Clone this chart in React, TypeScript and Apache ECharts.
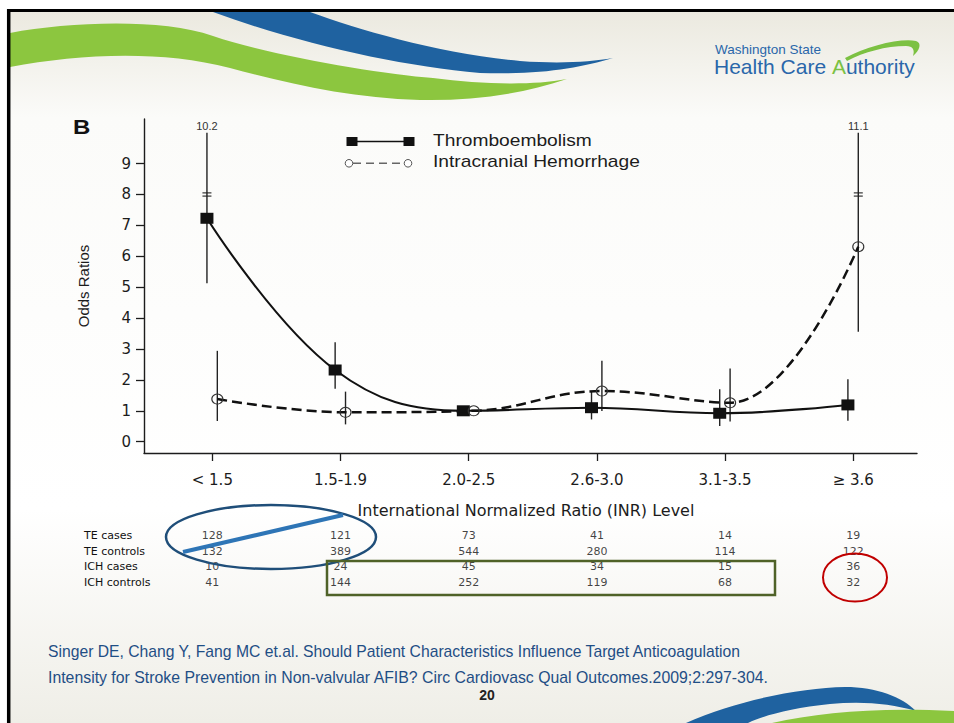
import React, { useEffect, useRef } from "react";
import * as echarts from "echarts";

// ---------------- data ----------------
const categories = ["< 1.5", "1.5-1.9", "2.0-2.5", "2.6-3.0", "3.1-3.5", "≥ 3.6"];
const yTickValues = [0, 1, 2, 3, 4, 5, 6, 7, 8, 9];
const teOddsRatio = [7.23, 2.32, 1.0, 1.1, 0.92, 1.19];
const teLowerCI = [5.13, 1.71, null, 0.72, 0.51, 0.68];
const teUpperCI = [10.2, 3.22, null, 1.62, 1.7, 2.02];
const ichOddsRatio = [1.38, 0.95, 1.0, 1.64, 1.26, 6.31];
const ichLowerCI = [0.67, 0.56, null, 0.99, 0.65, 3.56];
const ichUpperCI = [2.94, 1.62, null, 2.62, 2.37, 11.1];
const tableRowLabels = ["TE cases", "TE controls", "ICH cases", "ICH controls"];
const teCases = [128, 121, 73, 41, 14, 19];
const teControls = [132, 389, 544, 280, 114, 122];
const ichCases = [10, 24, 45, 34, 15, 36];
const ichControls = [41, 144, 252, 119, 68, 32];
const legendLabels = ["Thromboembolism", "Intracranial Hemorrhage"];
const citationLines = [
  "Singer DE, Chang Y, Fang MC et.al. Should Patient Characteristics Influence Target Anticoagulation",
  "Intensity for Stroke Prevention in Non-valvular AFIB? Circ Cardiovasc Qual Outcomes.2009;2:297-304.",
];

// ---------------- layout constants ----------------
const X_MIN = -0.533;
const X_MAX = 5.497;
const Y_MIN = -0.366;
const Y_MAX = 10.443;
const Y_CAP = 10.0; // off-scale CI bars are clipped here
const BREAK_AT = 8; // scale-break mark position
const DODGE_TE = -0.042;
const DODGE_ICH = 0.039;
const SANS = "'Liberation Sans', Arial, sans-serif";
const DEJAVU = "'DejaVu Sans', sans-serif";
const INK = "#1c1c1c";

// ---------------- decorative shapes ----------------
const SHAPES: Record<string, string> = {
  waveGreenTop:
    "M 10 33 C 70 22, 160 18, 213 36 C 273 56, 380 74, 433 78 C 480 84, 530 86, 567 79 C 520 95, 470 101, 420 100 C 350 98, 290 84, 230 68 C 160 50, 80 54, 10 67 Z",
  waveBlueTop:
    "M 213 12 L 310 12 C 360 30, 440 54, 520 61 C 560 64, 590 62, 613 58 C 580 68, 540 75, 480 73 C 400 66, 300 44, 213 12 Z",
  waveBlueBottom:
    "M 686 723 C 738 700, 800 688, 845 687 C 877 687, 902 697, 916 711 C 890 703, 860 701, 830 704 C 792 708, 765 715, 748 723 Z",
  waveGreenBottom: "M 772 723 C 820 712, 880 707, 954 711 L 954 723 Z",
  logoSwoosh:
    "M 845 58 C 868 46, 900 38, 916 41 C 922 43, 920 50, 913 56 C 915 50, 913 46, 906 46 C 886 46, 864 52, 847 61 Z",
};
for (const [name, d] of Object.entries(SHAPES)) {
  echarts.graphic.registerShape(name, echarts.graphic.extendPath(d, {}));
}

function measureText(text: string, font: string): number {
  const ctx = document.createElement("canvas").getContext("2d");
  if (!ctx) return text.length * 7;
  ctx.font = font;
  return ctx.measureText(text).width;
}

export default function App() {
  const ref = useRef<HTMLDivElement>(null);

  useEffect(() => {
    if (!ref.current) return;
    const chart = echarts.init(ref.current, undefined, { renderer: "svg" });

    const errData: number[][] = [];
    teOddsRatio.forEach((_, i) => {
      if (teLowerCI[i] != null && teUpperCI[i] != null)
        errData.push([i + DODGE_TE, teLowerCI[i] as number, teUpperCI[i] as number]);
    });
    ichOddsRatio.forEach((_, i) => {
      if (ichLowerCI[i] != null && ichUpperCI[i] != null)
        errData.push([i + DODGE_ICH, ichLowerCI[i] as number, ichUpperCI[i] as number]);
    });

    const tableRows = [teCases, teControls, ichCases, ichControls];
    const tableData: number[][] = [];
    tableRows.forEach((row, r) => row.forEach((v, i) => tableData.push([i, r, v])));

    const citeFont = `16px ${SANS}`;
    const citeScale1 = 694 / measureText(citationLines[0], citeFont);
    const citeScale2 = 722 / measureText(citationLines[1], citeFont);

    const option: any = {
      animation: false,
      grid: [
        { left: 144, top: 119, width: 773, height: 334, containLabel: false },
        { left: 144, top: 528, width: 773, height: 62, containLabel: false },
      ],
      xAxis: [
        {
          type: "value",
          gridIndex: 0,
          min: X_MIN,
          max: X_MAX,
          splitLine: { show: false },
          axisLine: { show: true, onZero: false, lineStyle: { color: INK, width: 1.4 } },
          axisTick: { show: true, length: 8, customValues: categories.map((_, i) => i), lineStyle: { color: INK, width: 1.3 } },
          axisLabel: {
            customValues: categories.map((_, i) => i),
            formatter: (v: number) => categories[Math.round(v)] ?? "",
            margin: 19,
            fontSize: 15,
            fontFamily: DEJAVU,
            color: INK,
          },
          name: "International Normalized Ratio (INR) Level",
          nameLocation: "middle",
          nameGap: 49,
          nameTextStyle: { fontSize: 16, fontFamily: DEJAVU, color: INK, padding: [0, 9, 0, 0] },
        },
        {
          type: "value",
          gridIndex: 1,
          min: X_MIN,
          max: X_MAX,
          show: false,
        },
      ],
      yAxis: [
        {
          type: "value",
          gridIndex: 0,
          min: Y_MIN,
          max: Y_MAX,
          splitLine: { show: false },
          axisLine: { show: true, onZero: false, lineStyle: { color: INK, width: 1.4 } },
          axisTick: { show: true, length: 8, customValues: yTickValues, lineStyle: { color: INK, width: 1.3 } },
          axisLabel: {
            customValues: yTickValues,
            margin: 13,
            fontSize: 15,
            fontFamily: DEJAVU,
            color: INK,
          },
          name: "Odds Ratios",
          nameLocation: "middle",
          nameGap: 53,
          nameTextStyle: { fontSize: 15, fontFamily: SANS, color: INK },
        },
        {
          type: "category",
          gridIndex: 1,
          data: tableRowLabels,
          inverse: true,
          axisLine: { show: false },
          axisTick: { show: false },
          splitLine: { show: false },
          axisLabel: { align: "left", margin: 60, fontSize: 11, fontFamily: DEJAVU, color: "#111" },
        },
      ],
      series: [
        {
          type: "custom",
          name: "CI",
          xAxisIndex: 0,
          yAxisIndex: 0,
          z: 1,
          clip: false,
          encode: { x: 0, y: [1, 2] },
          data: errData,
          renderItem: (_params: any, api: any) => {
            const x = api.value(0);
            const lo = api.value(1);
            const hi = api.value(2);
            const top = Math.min(hi, Y_CAP);
            const p0 = api.coord([x, lo]);
            const p1 = api.coord([x, top]);
            const children: any[] = [
              {
                type: "line",
                shape: { x1: p0[0], y1: p0[1], x2: p1[0], y2: p1[1] },
                style: { stroke: "#222", lineWidth: 1.4 },
              },
            ];
            if (hi > Y_CAP) {
              const pb = api.coord([x, BREAK_AT]);
              [-1.6, 1.6].forEach((d) =>
                children.push({
                  type: "line",
                  shape: { x1: pb[0] - 4.5, y1: pb[1] + d, x2: pb[0] + 4.5, y2: pb[1] + d },
                  style: { stroke: "#222", lineWidth: 1.1 },
                })
              );
              children.push({
                type: "text",
                x: p1[0],
                y: p1[1] - 1,
                style: {
                  text: hi.toFixed(1),
                  fill: "#333",
                  fontSize: 11,
                  fontFamily: SANS,
                  align: "center",
                  verticalAlign: "bottom",
                },
              });
            }
            return { type: "group", children };
          },
        },
        {
          type: "line",
          name: legendLabels[0],
          xAxisIndex: 0,
          yAxisIndex: 0,
          z: 3,
          smooth: 0.4,
          data: teOddsRatio.map((v, i) => [i + DODGE_TE, v]),
          symbol: "rect",
          symbolSize: [13, 11],
          itemStyle: { color: "#111" },
          lineStyle: { color: "#111", width: 2.1 },
        },
        {
          type: "line",
          name: legendLabels[1],
          xAxisIndex: 0,
          yAxisIndex: 0,
          z: 4,
          smooth: 0.4,
          data: ichOddsRatio.map((v, i) => [i + DODGE_ICH, v]),
          symbol: "circle",
          symbolSize: [11, 10],
          itemStyle: { color: "rgba(255,255,255,0)", borderColor: "#333", borderWidth: 1.1 },
          lineStyle: { color: "#111", width: 2.5, type: [10, 5] },
        },
        {
          type: "scatter",
          name: "table",
          xAxisIndex: 1,
          yAxisIndex: 1,
          symbolSize: 1,
          itemStyle: { color: "rgba(0,0,0,0)" },
          data: tableData,
          label: {
            show: true,
            position: "inside",
            formatter: (p: any) => String(p.value[2]),
            fontSize: 11,
            fontFamily: DEJAVU,
            color: "#111",
          },
        },
      ],
      graphic: [
        // background
        {
          type: "rect",
          z: -10,
          silent: true,
          shape: { x: 10, y: 11, width: 944, height: 712 },
          style: {
            fill: new echarts.graphic.LinearGradient(0, 0, 0, 1, [
              { offset: 0, color: "#ebe9df" },
              { offset: 0.15, color: "#fbfbf9" },
              { offset: 0.7, color: "#ffffff" },
              { offset: 1, color: "#efeee7" },
            ]),
          },
        },
        { type: "waveGreenTop", z: -9, silent: true, x: 0, y: 0, style: { fill: "#8cc63f" } },
        { type: "waveBlueTop", z: -9, silent: true, x: 0, y: 0, style: { fill: "#1f62a0" } },
        { type: "waveBlueBottom", z: -9, silent: true, x: 0, y: 0, style: { fill: "#1f62a0" } },
        { type: "waveGreenBottom", z: -9, silent: true, x: 0, y: 0, style: { fill: "#8cc63f" } },
        { type: "line", z: -8, silent: true, shape: { x1: 7, y1: 10.5, x2: 954, y2: 10.5 }, style: { stroke: "#000", lineWidth: 3 } },
        { type: "line", z: -8, silent: true, shape: { x1: 8.7, y1: 9, x2: 8.7, y2: 723 }, style: { stroke: "#000", lineWidth: 3.5 } },
        // logo
        {
          type: "text",
          z: -7,
          x: 715,
          y: 49,
          style: { text: "Washington State", fill: "#2a67aa", fontSize: 13.5, lineHeight: 12, fontFamily: SANS, align: "left", verticalAlign: "middle" },
        },
        {
          type: "text",
          z: -7,
          x: 714,
          y: 66.5,
          style: {
            text: "{b|Health Care }{g|A}{b|uthority}",
            align: "left",
            verticalAlign: "middle",
            rich: {
              b: { fill: "#2a67aa", fontSize: 21, lineHeight: 19, fontFamily: SANS },
              g: { fill: "#7cc142", fontSize: 21, lineHeight: 19, fontFamily: SANS },
            },
          },
        },
        { type: "logoSwoosh", z: -7, x: 0, y: 0, style: { fill: "#7cc142" } },
        // panel letter
        {
          type: "text",
          x: 73,
          y: 127,
          scaleX: 1.2,
          style: { text: "B", fill: "#111", fontSize: 20, fontWeight: "bold", fontFamily: SANS, align: "left", verticalAlign: "middle" },
        },
        // legend
        { type: "line", shape: { x1: 352, y1: 141.5, x2: 409, y2: 141.5 }, style: { stroke: "#111", lineWidth: 1.5 } },
        { type: "rect", shape: { x: 346.5, y: 137, width: 11, height: 9 }, style: { fill: "#111" } },
        { type: "rect", shape: { x: 403.5, y: 137, width: 11, height: 9 }, style: { fill: "#111" } },
        { type: "line", shape: { x1: 353, y1: 163.3, x2: 404, y2: 163.3 }, style: { stroke: "#666", lineWidth: 1.6, lineDash: [8, 5] } },
        { type: "circle", shape: { cx: 349, cy: 163.3, r: 3.8 }, style: { stroke: "#555", fill: "#fff", lineWidth: 1 } },
        { type: "circle", shape: { cx: 408, cy: 163.3, r: 3.8 }, style: { stroke: "#555", fill: "#fff", lineWidth: 1 } },
        {
          type: "text",
          x: 433,
          y: 140.5,
          scaleX: 1.2,
          style: { text: legendLabels[0], fill: INK, fontSize: 16, fontFamily: SANS, align: "left", verticalAlign: "middle" },
        },
        {
          type: "text",
          x: 433,
          y: 162,
          scaleX: 1.2,
          style: { text: legendLabels[1], fill: INK, fontSize: 16, fontFamily: SANS, align: "left", verticalAlign: "middle" },
        },
        // annotations
        {
          type: "ellipse",
          z: 10,
          shape: { cx: 271, cy: 537, rx: 105, ry: 32 },
          style: { fill: "none", stroke: "#1f4e79", lineWidth: 2.5 },
        },
        {
          type: "line",
          z: 10,
          shape: { x1: 183, y1: 552, x2: 343, y2: 515 },
          style: { stroke: "#2e75b6", lineWidth: 4 },
        },
        {
          type: "rect",
          z: 10,
          shape: { x: 327, y: 561, width: 448, height: 34 },
          style: { fill: "none", stroke: "#4f6228", lineWidth: 2.5 },
        },
        {
          type: "ellipse",
          z: 10,
          shape: { cx: 855, cy: 577.5, rx: 32, ry: 24 },
          style: { fill: "none", stroke: "#c00000", lineWidth: 2 },
        },
        // citation
        {
          type: "text",
          x: 48,
          y: 651,
          scaleX: citeScale1,
          style: { text: citationLines[0], fill: "#1f4e85", fontSize: 16, fontFamily: SANS, align: "left", verticalAlign: "middle" },
        },
        {
          type: "text",
          x: 48,
          y: 677,
          scaleX: citeScale2,
          style: { text: citationLines[1], fill: "#1f4e85", fontSize: 16, fontFamily: SANS, align: "left", verticalAlign: "middle" },
        },
        {
          type: "text",
          x: 487,
          y: 695,
          style: { text: "20", fill: "#222", fontSize: 14, fontWeight: "bold", fontFamily: SANS, align: "center", verticalAlign: "middle" },
        },
      ],
    };

    chart.setOption(option);
    return () => chart.dispose();
  }, []);

  return (
    <div
      ref={ref}
      style={{ position: "absolute", left: 0, top: 0, width: 954, height: 723, background: "#ffffff" }}
    />
  );
}
